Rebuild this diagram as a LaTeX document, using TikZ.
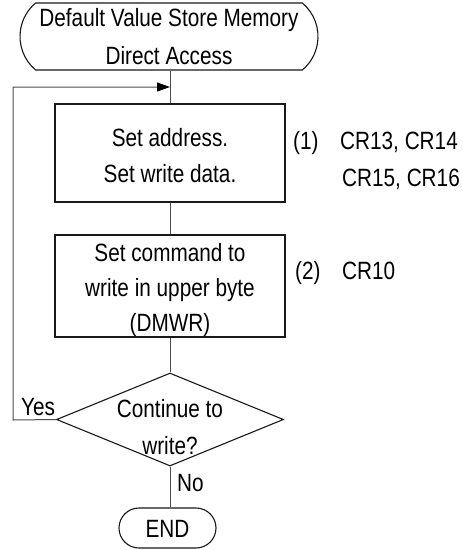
\documentclass[tikz,border=0pt]{standalone}
\usepackage{fontspec}
\setmainfont{Liberation Sans}[FakeStretch=0.83]
\usetikzlibrary{shapes.geometric,shapes.misc,arrows.meta}
\begin{document}
\begin{tikzpicture}[x=1pt,y=-1pt,
  shp/.style={draw=black!90, line width=1.1pt, inner sep=0pt, fill=white},
  conn/.style={draw=black!70, line width=1pt},
  txt/.style={font=\fontsize{25}{38}\selectfont, align=center, inner sep=0pt},
  lbl/.style={font=\fontsize{25}{30}\selectfont, inner sep=0pt, anchor=base west}]
\useasboundingbox (0,0) rectangle (463,550);
\coordinate (loopL) at (13,420);
\coordinate (loopT) at (13,87);
\coordinate (merge) at (170,87);
\node[shp, rounded rectangle, rounded rectangle arc length=100, minimum width=298pt, minimum height=67pt] (start) at (169,36.5) {};
\node[shp, rectangle, minimum width=230pt, minimum height=98pt] (b1) at (170,153) {};
\node[shp, rectangle, minimum width=230pt, minimum height=102pt] (b2) at (170,286) {};
\node[shp, diamond, minimum width=227pt, minimum height=93pt] (dec) at (170,419.5) {};
\node[shp, rounded rectangle, minimum width=97pt, minimum height=40pt] (fin) at (167.5,528) {};
\draw[conn] (start.south -| merge) -- (b1.north);
\draw[conn] (b1.south) -- (b2.north);
\draw[conn] (b2.south) -- (dec.north);
\draw[conn] (dec.south) -- (fin.north -| dec.south);
\draw[conn, -{Triangle[length=13pt,width=9pt,color=black]}] (dec.west) -- (loopL) -- (loopT) -- (merge);
% texts
\node[txt] (ts) at (169,37) {Default Value Store Memory\\Direct Access};
\node[txt, font=\fontsize{25}{36}\selectfont] (t1) at (170,156) {Set address.\\Set write data.};
\node[txt, font=\fontsize{25}{35}\selectfont] (t2) at (170,290.5) {Set command to\\write in upper byte\\(DMWR)};
\node[txt, font=\fontsize{25}{37}\selectfont] (td) at (170,427.5) {Continue to\\write?};
\node[txt] (tf) at (167.5,529) {END};
\node[lbl] (n1) at (293,149) {(1)};
\node[lbl] (c1) at (340,149) {CR13, CR14};
\node[lbl] (c2) at (342,186) {CR15, CR16};
\node[lbl] (n2) at (295,279) {(2)};
\node[lbl] (c3) at (342,279) {CR10};
\node[lbl] (yes) at (21,415) {Yes};
\node[lbl] (no) at (177,491) {No};
\end{tikzpicture}
\end{document}
